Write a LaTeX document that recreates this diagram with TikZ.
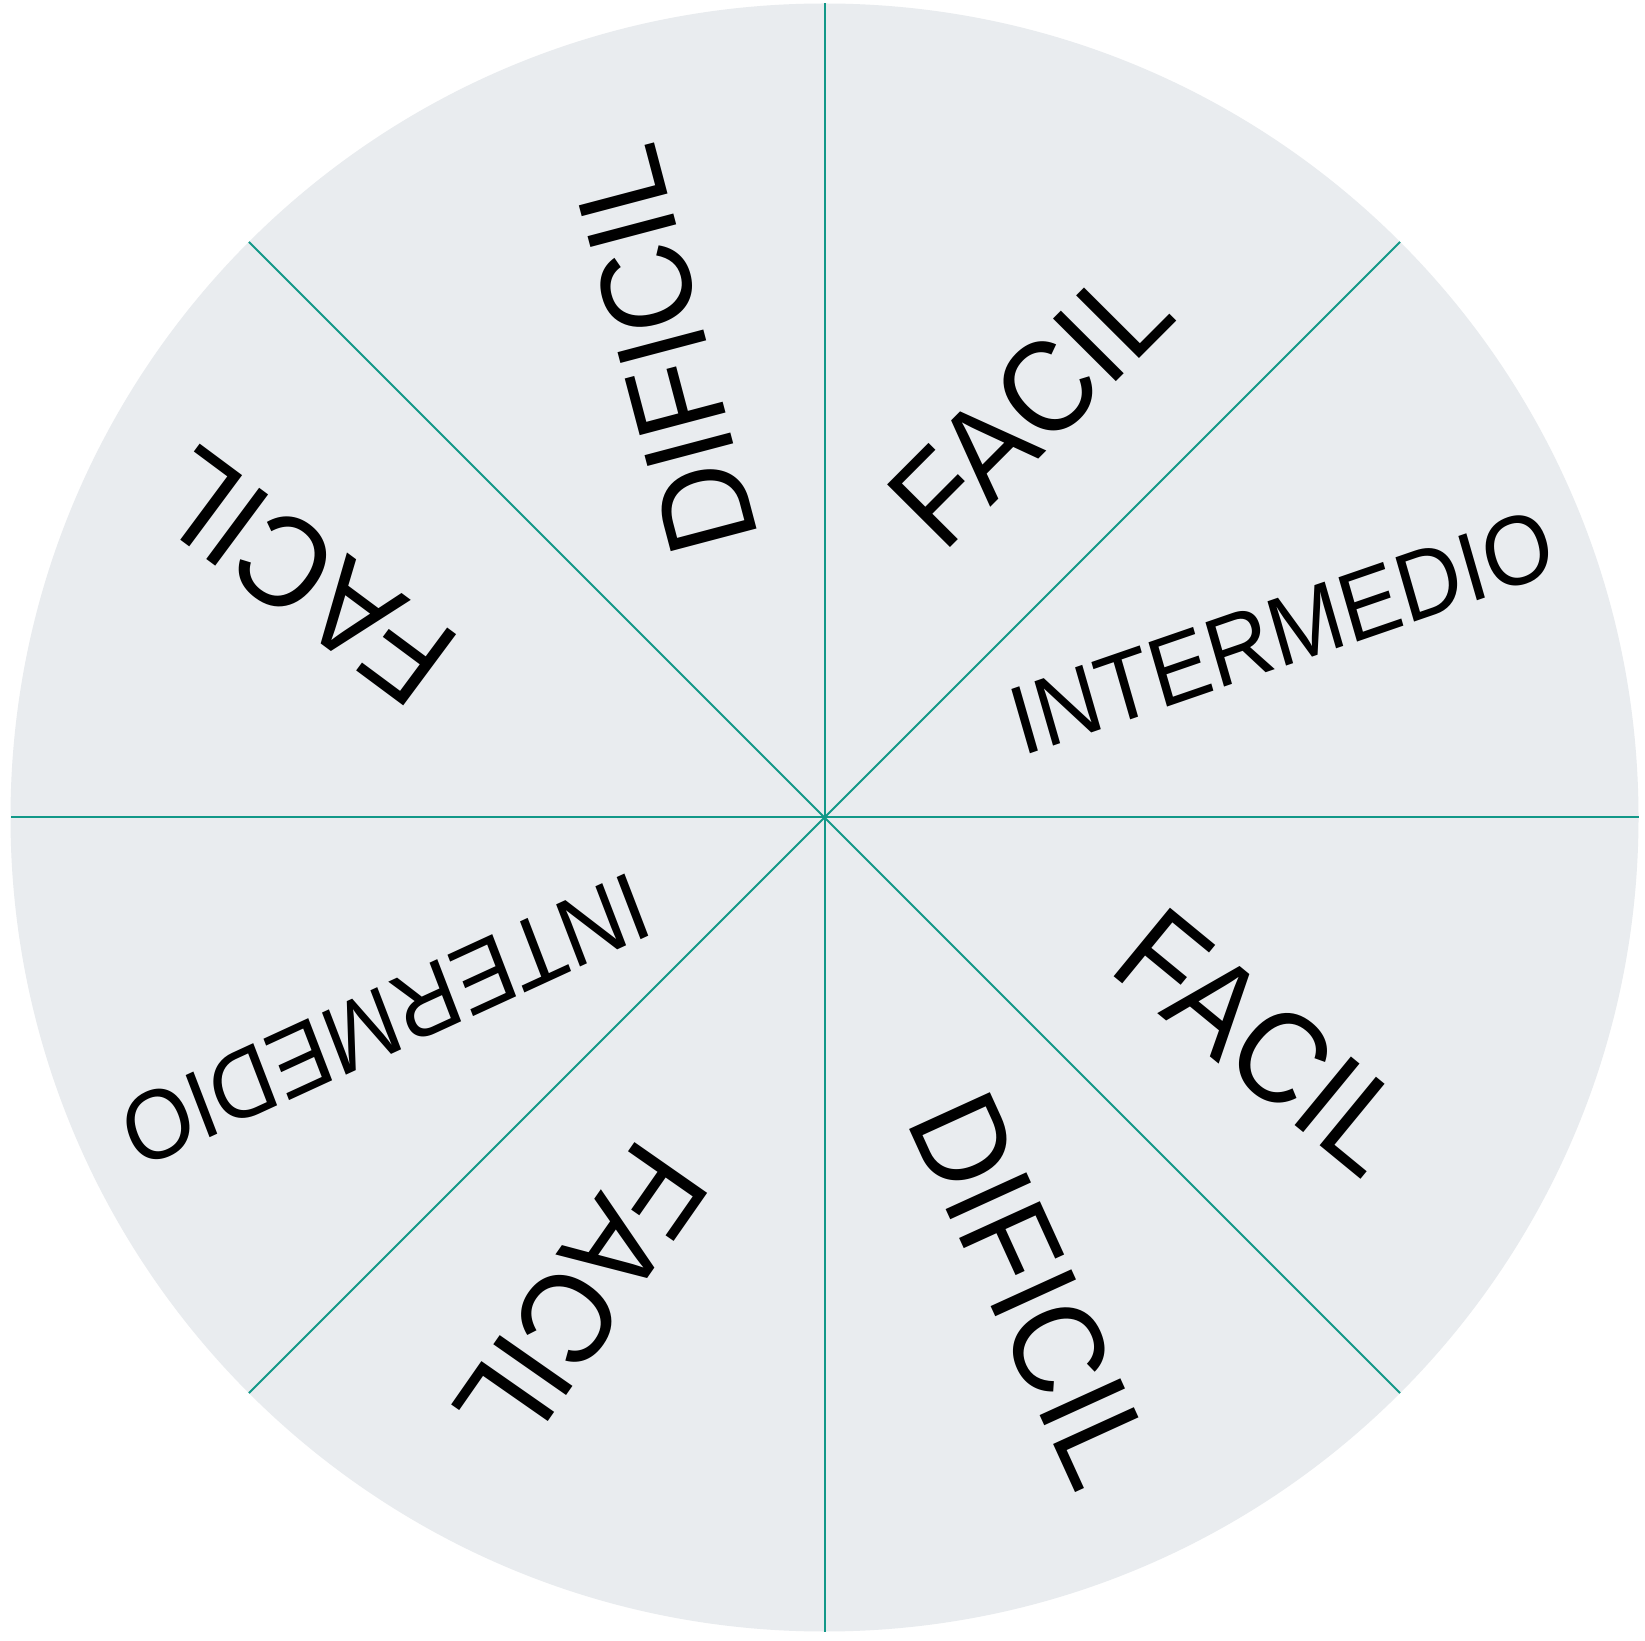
\documentclass[tikz,border=0pt]{standalone}
\usepackage{fontspec}
\setmainfont{Liberation Sans}
\usepackage{graphicx}
\definecolor{wheelbg}{RGB}{233,236,239}
\definecolor{spokec}{RGB}{18,152,136}
\begin{document}
\begin{tikzpicture}[x=0.5pt,y=-0.5pt,
  big/.style={inner sep=0pt, text=black, font=\fontsize{64.5}{64.5}\selectfont},
  mid/.style={inner sep=0pt, text=black, font=\fontsize{49}{49}\selectfont},
  spoke/.style={draw=spokec, line width=1pt}]
\useasboundingbox (0,0) rectangle (1645,1641);
\fill[white] (0,0) rectangle (1645,1641);
\coordinate (c) at (824.5,817.5);
\fill[wheelbg] (c) circle[radius=814];
\foreach \a in {0,45,...,315} \draw[spoke] (c) -- ++(\a:814);
% labels
\node[big, rotate=104.8] (d1) at (663.4,350) {\scalebox{0.93}[1]{DIFICIL}};
\node[big, rotate=45.1] (f1) at (1030.1,405) {\scalebox{0.93}[1]{FACIL}};
\node[mid] (i1) at (1282,632.3) {\scalebox{0.915}[1]{\rotatebox{17.5}{INTERMEDIO}}};
\node[big, rotate=-39.4] (f2) at (1263.3,1042.2) {\scalebox{0.93}[1]{FACIL}};
\node[big, rotate=-65.5] (d2) at (1032,1290.1) {\scalebox{0.93}[1]{DIFICIL}};
\node[big, rotate=235.1] (f3) at (581.2,1297) {\scalebox{0.93}[1]{FACIL}};
\node[mid] (i2) at (385,1020.4) {\scalebox{0.914}[1]{\rotatebox{202.8}{INTERMEDIO}}};
\node[big, rotate=143.4] (f4) at (304.3,577) {\scalebox{0.93}[1]{FACIL}};
\end{tikzpicture}
\end{document}
